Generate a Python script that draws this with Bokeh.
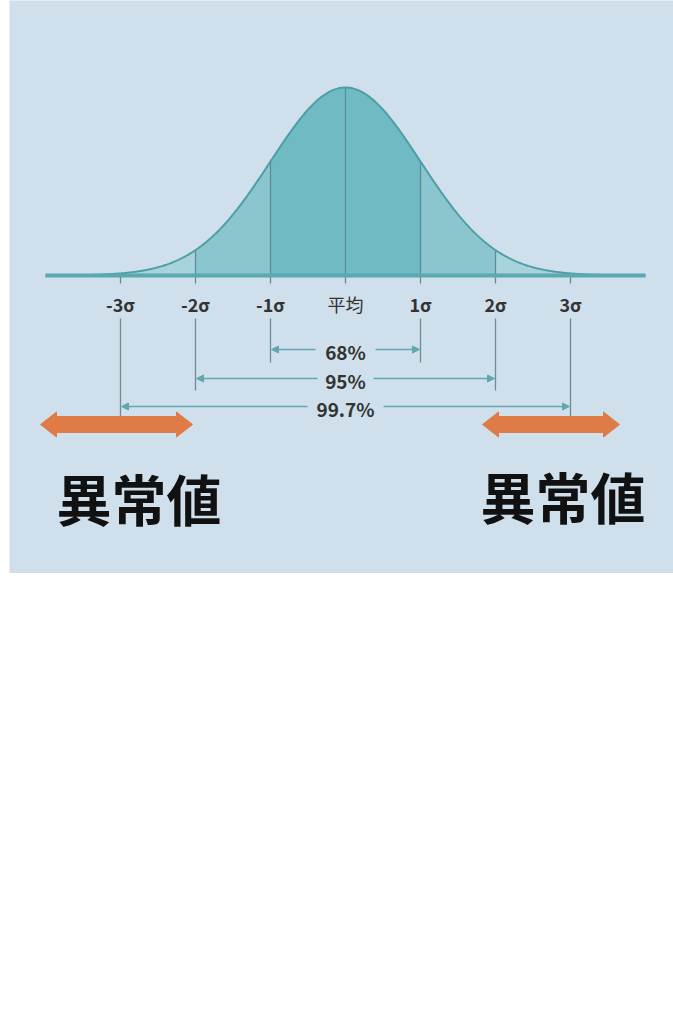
import numpy as np
from bokeh.plotting import figure
from bokeh.models import Range1d, Arrow, NormalHead
from bokeh.core.properties import value
from bokeh.embed import file_html
from bokeh.resources import INLINE

# ---- data ----
sigma_pos = [-3, -2, -1, 0, 1, 2, 3]
sigma_labels = ["-3σ", "-2σ", "-1σ", "平均", "1σ", "2σ", "3σ"]
coverage_k = [1, 2, 3]
coverage_labels = ["68%", "95%", "99.7%"]
outlier_label = "異常値"

# ---- layout helpers (pixel geometry -> data units) ----
PX_X = 75.0    # pixels per sigma
PX_Y = 188.0   # pixels per unit of relative density
W, H = 673, 573
LEFT = 9           # white strip on the left
X0, Y0 = 345, 275  # pixel position of the mean on the baseline

def dy(px):
    return px / PX_Y

def dx(px):
    return px / PX_X

p = figure(width=W, height=H, output_backend="svg", toolbar_location=None,
           x_range=Range1d((LEFT - X0) / PX_X, (W - X0) / PX_X),
           y_range=Range1d(-(H - Y0) / PX_Y, Y0 / PX_Y),
           min_border=0, min_border_left=LEFT)
p.axis.visible = False
p.grid.visible = False
p.outline_line_color = None
p.background_fill_color = "#cfe0ec"
p.border_fill_color = "#ffffff"

# normal curve (relative density)
xs = np.linspace(-4, 4, 801)
ys = np.exp(-xs ** 2 / 2)

def pdf(s):
    return float(np.exp(-s ** 2 / 2))

bands = [(-4, -2, "#a7d3dc"), (-2, -1, "#8bc6cf"), (-1, 1, "#6fbac3"),
         (1, 2, "#8bc6cf"), (2, 4, "#a7d3dc")]
for a, b, c in bands:
    m = (xs >= a - 1e-9) & (xs <= b + 1e-9)
    p.varea(x=xs[m], y1=0, y2=ys[m], fill_color=c)

# vertical lines inside the curve and ticks
for s in sigma_pos:
    top = pdf(s) if abs(s) < 3 else 0.0
    p.segment(x0=s, y0=-dy(8), x1=s, y1=top, line_color="#5e8d93", line_width=1.3)

p.line(xs, ys, line_color="#4e9ea6", line_width=2)
p.line([-4, 4], [0, 0], line_color="#5aa8b0", line_width=4)

# sigma labels
lab_font = value("Noto Sans CJK JP")
p.text(x=[s for s, l in zip(sigma_pos, sigma_labels) if l != "平均"],
       y=-dy(28), text=[l for l in sigma_labels if l != "平均"],
       text_font=lab_font, text_font_size="18px", text_font_style="bold",
       text_color="#333333", text_align="center", text_baseline="middle")
p.text(x=[s for s, l in zip(sigma_pos, sigma_labels) if l == "平均"],
       y=-dy(28), text=["平均"],
       text_font=lab_font, text_font_size="18px",
       text_color="#333333", text_align="center", text_baseline="middle")

# lines under labels
line_bottoms = {1: 362, 2: 390, 3: 420}
for k in coverage_k:
    for s in (-k, k):
        p.segment(x0=s, y0=-dy(318 - Y0), x1=s, y1=-dy(line_bottoms[k] - Y0),
                  line_color="#6f8c92", line_width=1.3)

# coverage arrows with labels
arrow_y = {1: 349, 2: 378, 3: 406}
half_gap = {1: 30, 2: 28, 3: 38}
teal = "#5fa8b1"
for k, lab in zip(coverage_k, coverage_labels):
    yy = -dy(arrow_y[k] - Y0)
    g = dx(half_gap[k])
    for sgn in (-1, 1):
        p.add_layout(Arrow(x_start=sgn * g, y_start=yy, x_end=sgn * (k - dx(1)), y_end=yy,
                           line_color=teal, line_width=1.5,
                           end=NormalHead(size=7, fill_color=teal, line_color=teal)))
    p.text(x=[0], y=[yy - dy(2)], text=[lab], text_font=lab_font,
           text_font_size="19px", text_font_style="bold", text_color="#333333",
           text_align="center", text_baseline="middle")

# orange outlier arrows
orange = "#df7b47"
def fat_arrow(x0, x1, yc, hl=16, hh=12.5, bh=8):
    X = [x0, x0 + dx(hl), x0 + dx(hl), x1 - dx(hl), x1 - dx(hl), x1,
         x1 - dx(hl), x1 - dx(hl), x0 + dx(hl), x0 + dx(hl)]
    Y = [yc, yc + dy(hh), yc + dy(bh), yc + dy(bh), yc + dy(hh), yc,
         yc - dy(hh), yc - dy(bh), yc - dy(bh), yc - dy(hh)]
    return X, Y

oy = -dy(424 - Y0)
lx, ly = fat_arrow(-3 - dx(80), -3 + dx(72), oy)
rx, ry = fat_arrow(3 - dx(88), 3 + dx(49), oy)
p.patches(xs=[lx, rx], ys=[ly, ry], fill_color=orange, line_color=orange, line_width=1)

# outlier labels
p.text(x=[-3 + dx(18.5), 3 - dx(7.5)], y=[-dy(496 - Y0), -dy(494 - Y0)],
       text=[outlier_label, outlier_label],
       text_font=value("Noto Sans CJK JP"), text_font_size="55px",
       text_font_style="bold", text_color="#111111",
       text_align="center", text_baseline="middle")

open("out.html", "w").write(file_html(p, INLINE))
